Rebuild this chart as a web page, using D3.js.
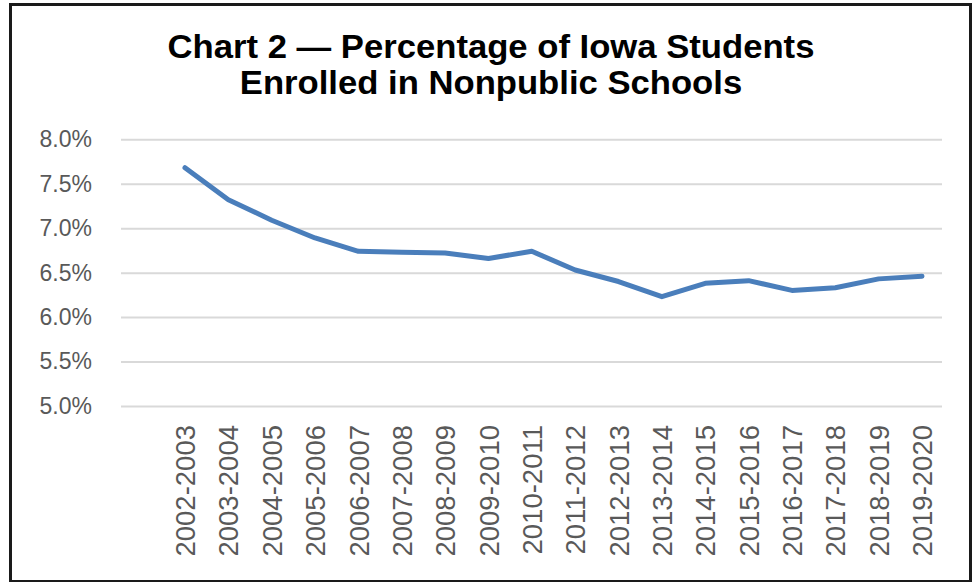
<!DOCTYPE html>
<html>
<head>
<meta charset="utf-8">
<script src="https://cdn.jsdelivr.net/npm/d3@7"></script>
<style>
  body { margin: 0; background: #fff; }
  #my_dataviz { width: 973px; height: 582px; }
</style>
</head>
<body>
<div id="my_dataviz"></div>
<script>
// school years and % enrolled in nonpublic schools
var years = ["2002-2003","2003-2004","2004-2005","2005-2006","2006-2007","2007-2008",
  "2008-2009","2009-2010","2010-2011","2011-2012","2012-2013","2013-2014",
  "2014-2015","2015-2016","2016-2017","2017-2018","2018-2019","2019-2020"];
var pct = [7.68, 7.32, 7.09, 6.89, 6.74, 6.73, 6.72, 6.66, 6.74, 6.53, 6.40, 6.23,
  6.38, 6.41, 6.30, 6.33, 6.43, 6.46];
var yTicks = [5.0, 5.5, 6.0, 6.5, 7.0, 7.5, 8.0];
var titleLines = ["Chart 2 \u2014 Percentage of Iowa Students", "Enrolled in Nonpublic Schools"];

var w = 973, h = 582;
var font = "'Liberation Sans', Arial, sans-serif";

var svg = d3.select("#my_dataviz").append("svg")
  .attr("width", w)
  .attr("height", h);

// outer frame
svg.append("rect")
  .attr("x", 10.5).attr("y", 4.5)
  .attr("width", 960).attr("height", 577)
  .attr("fill", "#fff")
  .attr("stroke", "#1a1a1a")
  .attr("stroke-width", 3);

// title (slightly wide, like the original)
svg.append("text")
  .attr("text-anchor", "middle")
  .attr("transform", "translate(491,0) scale(1.05,1)")
  .style("font-family", font)
  .style("font-weight", "bold")
  .style("font-size", "33px")
  .attr("fill", "#000")
  .selectAll("tspan")
  .data(titleLines)
  .enter().append("tspan")
  .attr("x", 0)
  .attr("y", function(d, i) { return 58 + i * 36.5; })
  .text(function(d) { return d; });

// scales
var x = d3.scalePoint()
  .domain(years)
  .range([185, 922]);
var y = d3.scaleLinear()
  .domain([5, 8])
  .range([406, 139.3]);

var gridLeft = 121, gridRight = 942;

// y axis + gridlines
var yAxis = svg.append("g")
  .attr("transform", "translate(" + gridLeft + ",0)")
  .call(d3.axisLeft(y)
    .tickValues(yTicks)
    .tickFormat(function(d) { return d.toFixed(1) + "%"; })
    .tickSizeInner(-(gridRight - gridLeft))
    .tickSizeOuter(0)
    .tickPadding(29));
yAxis.select(".domain").remove();
yAxis.selectAll(".tick line")
  .attr("stroke", "#d9d9d9")
  .attr("stroke-width", 2);
yAxis.selectAll(".tick text")
  .attr("fill", "#595959")
  .style("font-family", font)
  .style("font-size", "23px");

// x axis labels (rotated)
var xAxis = svg.append("g")
  .attr("transform", "translate(0,425)")
  .call(d3.axisBottom(x).tickSize(0).tickPadding(0));
xAxis.select(".domain").remove();
xAxis.selectAll(".tick text")
  .attr("fill", "#595959")
  .style("font-family", font)
  .style("font-size", "27.5px")
  .attr("text-anchor", "end")
  .attr("transform", "rotate(-90)")
  .attr("x", 0)
  .attr("y", 0)
  .attr("dy", "0.35em");

// line
var line = d3.line()
  .x(function(d, i) { return x(years[i]); })
  .y(function(d) { return y(d); });

svg.append("path")
  .datum(pct)
  .attr("d", line)
  .attr("fill", "none")
  .attr("stroke", "#4a7ebb")
  .attr("stroke-width", 5)
  .attr("stroke-linejoin", "round")
  .attr("stroke-linecap", "round");
</script>
</body>
</html>
